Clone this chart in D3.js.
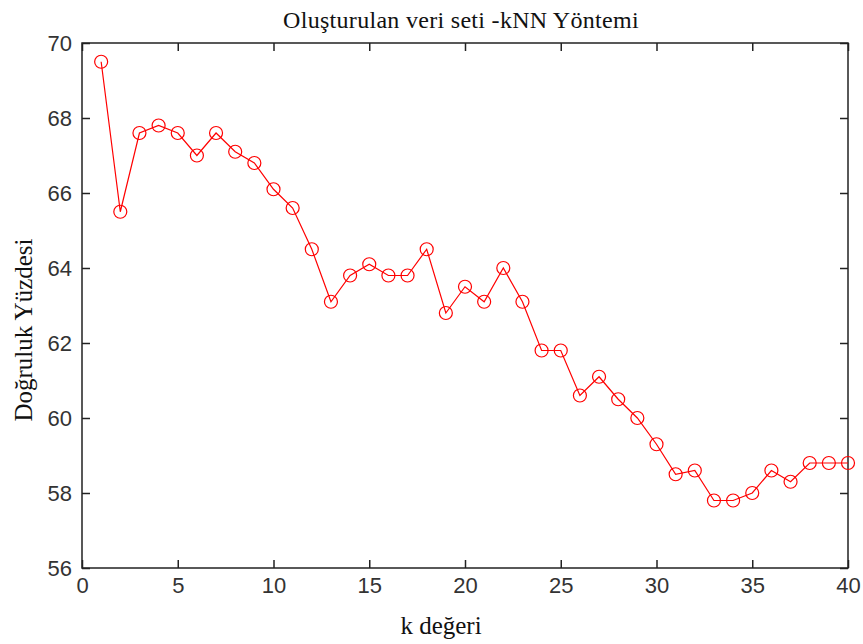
<!DOCTYPE html>
<html>
<head>
<meta charset="utf-8">
<script src="https://cdn.jsdelivr.net/npm/d3@7"></script>
<style>
  body { margin: 0; background: #fff; }
  .tick text { font-family: "Liberation Sans", Arial, sans-serif; font-size: 22px; fill: #333; }
  .lbl { font-family: "Liberation Serif", "Times New Roman", serif; fill: #111; }
</style>
</head>
<body>
<div id="chart"></div>
<script>
// k degerleri ve dogruluk yuzdeleri
var kValues = d3.range(1, 41);
var accuracy = [69.5, 65.5, 67.6, 67.8, 67.6, 67.0, 67.6, 67.1, 66.8, 66.1,
                65.6, 64.5, 63.1, 63.8, 64.1, 63.8, 63.8, 64.5, 62.8, 63.5,
                63.1, 64.0, 63.1, 61.8, 61.8, 60.6, 61.1, 60.5, 60.0, 59.3,
                58.5, 58.6, 57.8, 57.8, 58.0, 58.6, 58.3, 58.8, 58.8, 58.8];
var xTicks = [0, 5, 10, 15, 20, 25, 30, 35, 40];
var yTicks = [56, 58, 60, 62, 64, 66, 68, 70];

var W = 863, H = 644;
var margin = {top: 43, right: 15, bottom: 76, left: 82};
var width = W - margin.left - margin.right,
    height = H - margin.top - margin.bottom;

var svg = d3.select("#chart").append("svg")
    .attr("width", W).attr("height", H);

var g = svg.append("g")
    .attr("transform", "translate(" + margin.left + "," + margin.top + ")");

var x = d3.scaleLinear().domain([0, 40]).range([0, width]);
var y = d3.scaleLinear().domain([56, 70]).range([height, 0]);

// eksenler (ticks inward)
g.append("g")
    .attr("transform", "translate(0," + height + ")")
    .call(d3.axisBottom(x).tickValues(xTicks).tickSizeInner(-8).tickSizeOuter(0).tickPadding(9))
    .call(function(a) { a.select(".domain").remove(); });
g.append("g")
    .call(d3.axisTop(x).tickValues(xTicks).tickSizeInner(-8).tickSizeOuter(0).tickFormat(""))
    .call(function(a) { a.select(".domain").remove(); });
g.append("g")
    .call(d3.axisLeft(y).tickValues(yTicks).tickSizeInner(-8).tickSizeOuter(0).tickPadding(10))
    .call(function(a) { a.select(".domain").remove(); });
g.append("g")
    .attr("transform", "translate(" + width + ",0)")
    .call(d3.axisRight(y).tickValues(yTicks).tickSizeInner(-8).tickSizeOuter(0).tickFormat(""))
    .call(function(a) { a.select(".domain").remove(); });

g.selectAll(".tick line").attr("stroke", "#222").attr("stroke-width", 1.5);

g.append("rect")
    .attr("width", width).attr("height", height)
    .attr("fill", "none").attr("stroke", "#222").attr("stroke-width", 1.5);

var line = d3.line()
    .x(function(d, i) { return x(kValues[i]); })
    .y(function(d) { return y(d); });

g.append("path")
    .datum(accuracy)
    .attr("d", line)
    .attr("fill", "none")
    .attr("stroke", "#ff0000")
    .attr("stroke-width", 1.2);

g.selectAll(".pt").data(accuracy).enter()
    .append("circle")
    .attr("class", "pt")
    .attr("cx", function(d, i) { return x(kValues[i]); })
    .attr("cy", function(d) { return y(d); })
    .attr("r", 6.5)
    .attr("fill", "none")
    .attr("stroke", "#ff0000")
    .attr("stroke-width", 1.2);

// basliklar
svg.append("text").attr("class", "lbl")
    .attr("x", 461).attr("y", 28)
    .attr("text-anchor", "middle").style("font-size", "24px")
    .style("letter-spacing", "0.3px")
    .text("Oluşturulan veri seti -kNN Yöntemi");

svg.append("text").attr("class", "lbl")
    .attr("x", 441).attr("y", 634)
    .attr("text-anchor", "middle").style("font-size", "25px")
    .text("k değeri");

svg.append("text").attr("class", "lbl")
    .attr("transform", "translate(32,330) rotate(-90)")
    .attr("text-anchor", "middle").style("font-size", "25px")
    .text("Doğruluk Yüzdesi");
</script>
</body>
</html>
